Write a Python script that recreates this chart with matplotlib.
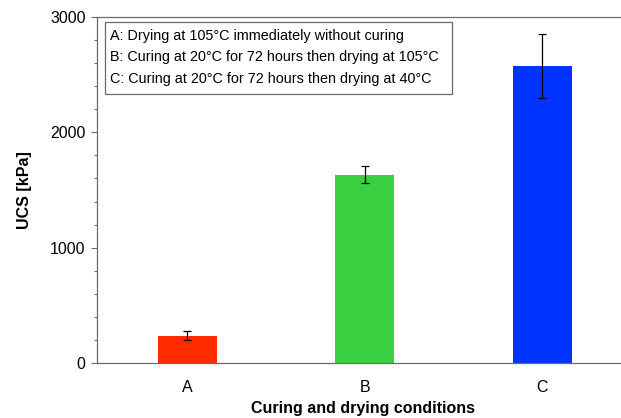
import matplotlib
import numpy as np

matplotlib.use("Agg")
import matplotlib.pyplot as plt
from matplotlib.patches import Rectangle
from matplotlib.ticker import MultipleLocator

plt.rcParams["font.family"] = ["Liberation Sans", "DejaVu Sans"]

CONDITIONS = ["A", "B", "C"]
UCS = [240, 1632, 2572]
UCS_ERR = [37, 75, 277]
COLORS = ["#ff2a00", "#39d141", "#0033ff"]
NOTE_LINES = [
    "A: Drying at 105°C immediately without curing",
    "B: Curing at 20°C for 72 hours then drying at 105°C",
    "C: Curing at 20°C for 72 hours then drying at 40°C",
]

SPINE = "#6a6a6a"


def main() -> None:
    fig = plt.figure(figsize=(6.21, 4.18), dpi=100)
    # axes runs a little past the right edge, as in the source crop
    ax = fig.add_axes([96.7 / 621, 54.7 / 418, (629 - 96.7) / 621, 346.6 / 418])

    x = np.arange(len(CONDITIONS))
    ax.bar(x, UCS, width=0.333, color=COLORS, zorder=2)
    ax.errorbar(x, UCS, yerr=UCS_ERR, fmt="none", ecolor="black",
                elinewidth=0.9, capsize=3, capthick=0.9, zorder=3)

    ax.set_xlim(-0.51, 2.49)
    ax.set_ylim(0, 3000)
    ax.set_xticks(x)
    ax.set_xticklabels(CONDITIONS, fontsize=11.5)
    ax.yaxis.set_major_locator(MultipleLocator(1000))
    ax.yaxis.set_minor_locator(MultipleLocator(200))
    ax.tick_params(axis="x", length=0, pad=12)
    ax.tick_params(axis="y", which="major", length=4, width=0.8, color=SPINE,
                   labelsize=11.5, pad=4)
    ax.tick_params(axis="y", which="minor", length=2.5, width=0.8, color=SPINE)
    for side in ("left", "bottom", "top"):
        ax.spines[side].set_color(SPINE)
        ax.spines[side].set_linewidth(0.9)
    ax.spines["right"].set_visible(False)

    ax.set_xlabel("Curing and drying conditions", fontsize=11.5,
                  fontweight="bold", labelpad=4)
    ax.set_ylabel("UCS [kPa]", fontsize=11.5, fontweight="bold", labelpad=13)

    # note box with the condition descriptions
    ax.add_patch(Rectangle((0.0156, 0.776), 0.6514, 0.2096, transform=ax.transAxes,
                           facecolor="white", edgecolor=SPINE, linewidth=0.9,
                           zorder=4))
    for line, ypos in zip(NOTE_LINES, [0.944, 0.883, 0.821]):
        ax.text(0.025, ypos, line, transform=ax.transAxes, ha="left",
                va="center", fontsize=10.4, zorder=5)

    fig.savefig("out.png", dpi=100)
    plt.close(fig)


if __name__ == "__main__":
    main()
